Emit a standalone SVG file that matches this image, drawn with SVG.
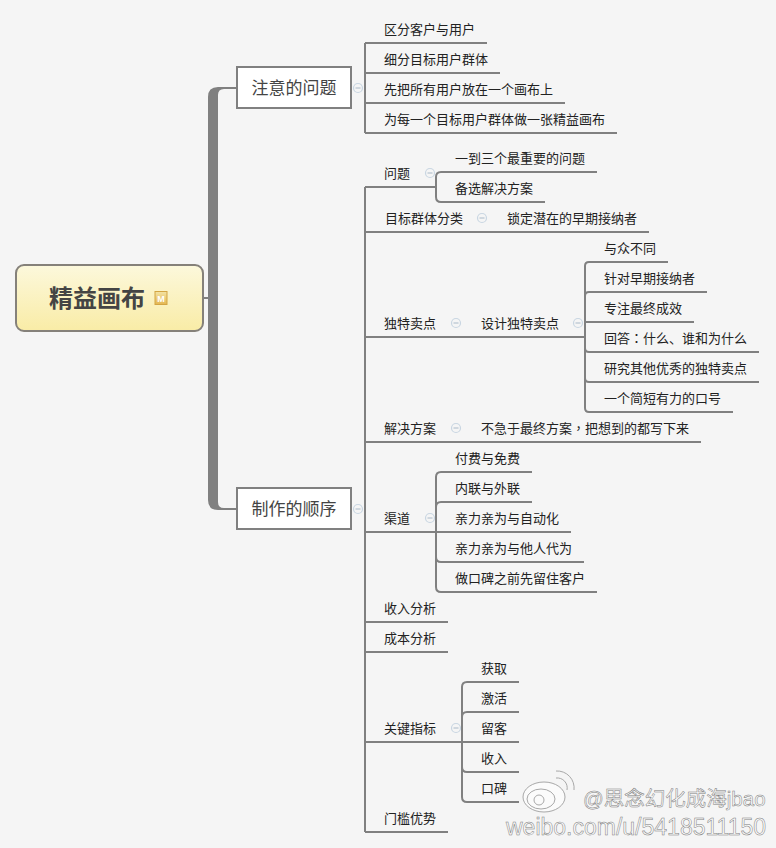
<svg xmlns="http://www.w3.org/2000/svg" width="776" height="848" viewBox="0 0 776 848">
<defs>
<linearGradient id="rootFill" x1="0" y1="0" x2="0" y2="1"><stop offset="0" stop-color="#fcf8dc"/><stop offset="1" stop-color="#f9eca6"/></linearGradient>
<linearGradient id="iconFill" x1="0" y1="0" x2="0" y2="1"><stop offset="0" stop-color="#f3e3a4"/><stop offset="1" stop-color="#e4b752"/></linearGradient>
<g id="fold"><circle r="4.500" fill="#f5f5f5" stroke="#c9d6e2" stroke-width="1.200"/><path d="M-2.500 0H2.500" stroke="#a9b9c8" stroke-width="1"/></g>
</defs>
<style>
text{font-family:"Noto Sans CJK SC","Liberation Sans",sans-serif;fill:#222;font-size:13px}
.main{font-size:17px;fill:#444}
.tc{font-family:"Noto Sans CJK TC",sans-serif}
.ln{fill:none;stroke:#808080;stroke-width:2}
.mark{font-family:"Liberation Sans","Noto Sans CJK SC",sans-serif;fill:#fbfbfb;stroke:#7c7c7c;stroke-width:.5px}
</style>
<rect width="776" height="848" fill="#f5f5f5"/>
<g id="connectors">
<path d="M237 87H218Q208 87 208 97V500Q208 510 218 510H237V508H224Q218 508 218 502V95Q218 89 224 89H237Z" fill="#808080"/>
<path d="M208 298H203" class="ln"/>
<path class="ln" d="M365 43V133M365 43H487M365 73H500M365 103H565M365 133H617"/>
<path class="ln" d="M365 187V832M365 187H436M365 232H649M365 337H584M365 442H701M365 532H436M365 622H448M365 652H448M365 742H461M365 832H448"/>
<path class="ln" d="M597 172H441Q436 172 436 177V197Q436 202 441 202H545"/>
<path class="ln" d="M668 262H589Q585 262 585 266V408Q585 412 589 412H733M707 292H589Q585 292 585 296M694 322H585M759 352H589Q585 352 585 348M759 382H589Q585 382 585 378"/>
<path class="ln" d="M532 472H441Q436 472 436 477V587Q436 592 441 592H597M532 502H441Q436 502 436 507M571 532H436M584 562H441Q436 562 436 557"/>
<path class="ln" d="M519 682H467Q462 682 462 687V797Q462 802 467 802H519M519 712H467Q462 712 462 717M519 742H461M519 772H467Q462 772 462 767"/>
</g>
<g id="root"><rect x="16" y="265" width="187" height="66" rx="8" fill="url(#rootFill)" stroke="#85817a" stroke-width="2"/><text x="97" y="307" text-anchor="middle" style="font-size:24px;font-weight:700;fill:#444">精益画布</text><rect x="155" y="291.500" width="12" height="13" fill="url(#iconFill)" stroke="#d3a543"/><text x="161" y="302" text-anchor="middle" style="font-size:9px;font-weight:700;fill:#fff;font-family:'Liberation Sans',sans-serif">M</text></g>
<g id="n-attention"><rect x="237" y="67" width="114" height="41" fill="#fff" stroke="#808080" stroke-width="2"/><text x="294" y="94" text-anchor="middle" class="main">注意的问题</text></g>
<g id="n-order"><rect x="237" y="488" width="114" height="41" fill="#fff" stroke="#808080" stroke-width="2"/><text x="294" y="515" text-anchor="middle" class="main">制作的顺序</text></g>
<g id="labels">
<text x="384" y="34">区分客户与用户</text>
<text x="384" y="64">细分目标用户群体</text>
<text x="384" y="94">先把所有用户放在一个画布上</text>
<text x="384" y="124">为每一个目标用户群体做一张精益画布</text>
<text x="384" y="178">问题</text>
<text x="455" y="163">一到三个最重要的问题</text>
<text x="455" y="193">备选解决方案</text>
<text x="385" y="223">目标群体分类</text>
<text x="507" y="223">锁定潜在的早期接纳者</text>
<text x="384" y="328">独特卖点</text>
<text x="481" y="328">设计独特卖点</text>
<text x="604" y="253">与众不同</text>
<text x="604" y="283">针对早期接纳者</text>
<text x="604" y="313">专注最终成效</text>
<text x="604" y="343">回答<tspan class="tc">：</tspan>什么、谁和为什么</text>
<text x="604" y="373">研究其他优秀的独特卖点</text>
<text x="604" y="403">一个简短有力的口号</text>
<text x="384" y="433">解决方案</text>
<text x="481" y="433">不急于最终方案<tspan class="tc">，</tspan>把想到的都写下来</text>
<text x="455" y="463">付费与免费</text>
<text x="455" y="493">内联与外联</text>
<text x="455" y="523">亲力亲为与自动化</text>
<text x="455" y="553">亲力亲为与他人代为</text>
<text x="455" y="583">做口碑之前先留住客户</text>
<text x="384" y="523">渠道</text>
<text x="384" y="613">收入分析</text>
<text x="384" y="643">成本分析</text>
<text x="384" y="733">关键指标</text>
<text x="481" y="673">获取</text>
<text x="481" y="703">激活</text>
<text x="481" y="733">留客</text>
<text x="481" y="763">收入</text>
<text x="481" y="793">口碑</text>
<text x="384" y="823">门槛优势</text>
</g>
<g id="folds">
<use href="#fold" x="358" y="88"/><use href="#fold" x="358" y="509"/><use href="#fold" x="430" y="173"/><use href="#fold" x="482" y="218"/><use href="#fold" x="456" y="323"/><use href="#fold" x="578" y="323"/><use href="#fold" x="456" y="428"/><use href="#fold" x="430" y="518"/><use href="#fold" x="456" y="728"/>
</g>
<g id="watermark">
<g fill="none" stroke="#a8a8a8" stroke-width="1"><ellipse cx="544" cy="797" rx="21" ry="15" fill="#fbfbfb"/><ellipse cx="541" cy="799" rx="14" ry="10"/><circle cx="539" cy="800" r="5"/><path d="M556 771a17 17 0 0 1 18 19M556 778a10 10 0 0 1 11 12"/></g>
<text x="583" y="806" class="mark" style="font-size:20.500px">@思念幻化成海jbao</text>
<text x="506" y="835" class="mark" style="font-size:23px">weibo.com/u/5418511150</text>
</g>
</svg>
